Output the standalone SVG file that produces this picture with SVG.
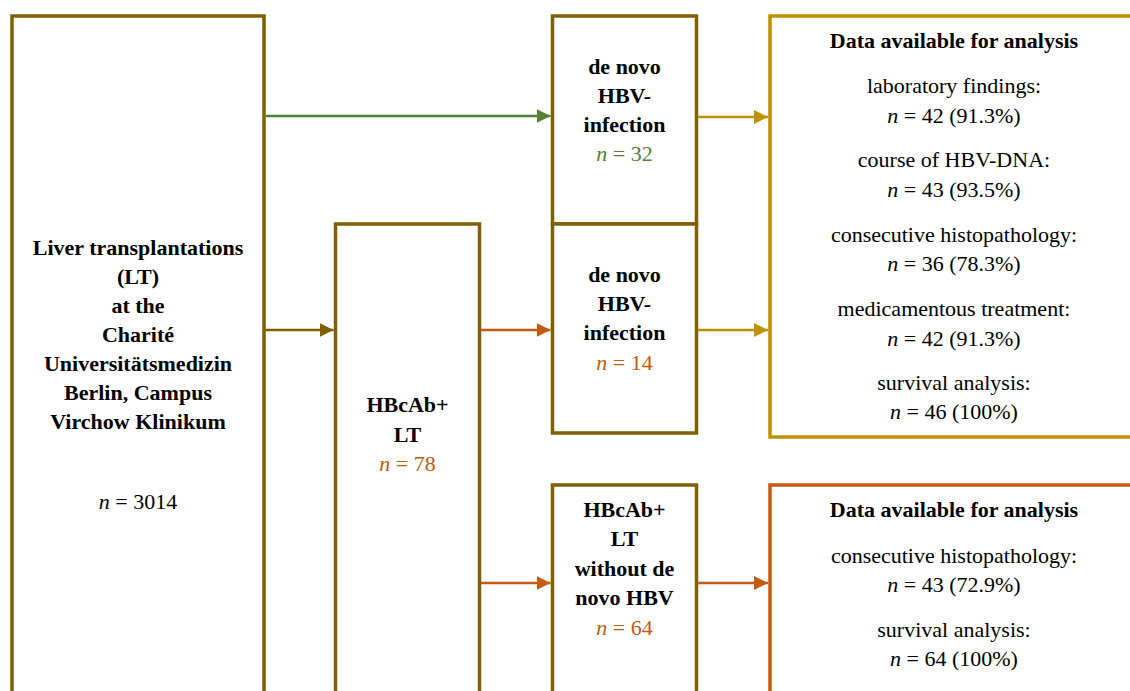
<svg xmlns="http://www.w3.org/2000/svg" width="1130" height="691" viewBox="0 0 1130 691">
<defs>
<style>
.box{fill:#ffffff;stroke:#7F6000;stroke-width:3.5}
.gold{fill:#ffffff;stroke:#BF9000;stroke-width:3.5}
.org{fill:#ffffff;stroke:#C55A11;stroke-width:3.5}
text{font-family:"Liberation Serif","Times New Roman",serif;font-size:22px;text-anchor:middle;fill:#000000}
.b{font-weight:bold}
.i{font-style:italic}
.gr{fill:#538135}
.or{fill:#C55A11}
.c{fill:none;stroke-width:2.5}
</style>
<marker id="mBrown" markerUnits="userSpaceOnUse" markerWidth="15" markerHeight="15" refX="14" refY="7" orient="auto"><path d="M0,0 L14,7 L0,14 z" fill="#7F6000"/></marker>
<marker id="mGreen" markerUnits="userSpaceOnUse" markerWidth="15" markerHeight="15" refX="14" refY="7" orient="auto"><path d="M0,0 L14,7 L0,14 z" fill="#538135"/></marker>
<marker id="mOrange" markerUnits="userSpaceOnUse" markerWidth="15" markerHeight="15" refX="14" refY="7" orient="auto"><path d="M0,0 L14,7 L0,14 z" fill="#C55A11"/></marker>
<marker id="mGold" markerUnits="userSpaceOnUse" markerWidth="15" markerHeight="15" refX="14" refY="7" orient="auto"><path d="M0,0 L14,7 L0,14 z" fill="#BF9000"/></marker>
</defs>
<rect width="1130" height="691" fill="#ffffff"/>

<g id="node-lt">
<rect class="box" x="12" y="16" width="252" height="700"/>
<text class="b" x="138" y="254.5">Liver transplantations</text>
<text class="b" x="138" y="283.5">(LT)</text>
<text class="b" x="138" y="312.5">at the</text>
<text class="b" x="138" y="341.5">Charité</text>
<text class="b" x="138" y="370.5">Universitätsmedizin</text>
<text class="b" x="138" y="399.5">Berlin, Campus</text>
<text class="b" x="138" y="428.5">Virchow Klinikum</text>
<text x="138" y="509"><tspan class="i">n</tspan> = 3014</text>
</g>

<g id="node-hbcab">
<rect class="box" x="335.5" y="224" width="144" height="500"/>
<text class="b" x="407.5" y="412">HBcAb+</text>
<text class="b" x="407.5" y="441.5">LT</text>
<text class="or" x="407.5" y="471"><tspan class="i">n</tspan> = 78</text>
</g>

<g id="node-denovo32">
<rect class="box" x="552.5" y="16" width="144" height="208"/>
<text class="b" x="624.5" y="74">de novo</text>
<text class="b" x="624.5" y="103">HBV-</text>
<text class="b" x="624.5" y="132">infection</text>
<text class="gr" x="624.5" y="161"><tspan class="i">n</tspan> = 32</text>
</g>

<g id="node-denovo14">
<rect class="box" x="552.5" y="224" width="144" height="209"/>
<text class="b" x="624.5" y="282">de novo</text>
<text class="b" x="624.5" y="311">HBV-</text>
<text class="b" x="624.5" y="340">infection</text>
<text class="or" x="624.5" y="369.5"><tspan class="i">n</tspan> = 14</text>
</g>

<g id="node-without">
<rect class="box" x="552.5" y="485" width="144" height="300"/>
<text class="b" x="624.5" y="516.5">HBcAb+</text>
<text class="b" x="624.5" y="546">LT</text>
<text class="b" x="624.5" y="575.5">without de</text>
<text class="b" x="624.5" y="605">novo HBV</text>
<text class="or" x="624.5" y="635"><tspan class="i">n</tspan> = 64</text>
</g>

<g id="node-data1">
<rect class="gold" x="770" y="16" width="400" height="421"/>
<text class="b" x="954" y="48">Data available for analysis</text>
<text x="954" y="93">laboratory findings:</text>
<text x="954" y="122.5"><tspan class="i">n</tspan> = 42 (91.3%)</text>
<text x="954" y="167">course of HBV-DNA:</text>
<text x="954" y="196.5"><tspan class="i">n</tspan> = 43 (93.5%)</text>
<text x="954" y="241.5">consecutive histopathology:</text>
<text x="954" y="271"><tspan class="i">n</tspan> = 36 (78.3%)</text>
<text x="954" y="316">medicamentous treatment:</text>
<text x="954" y="345.5"><tspan class="i">n</tspan> = 42 (91.3%)</text>
<text x="954" y="390">survival analysis:</text>
<text x="954" y="419"><tspan class="i">n</tspan> = 46 (100%)</text>
</g>

<g id="node-data2">
<rect class="org" x="770" y="485" width="400" height="300"/>
<text class="b" x="954" y="516.5">Data available for analysis</text>
<text x="954" y="562.5">consecutive histopathology:</text>
<text x="954" y="592"><tspan class="i">n</tspan> = 43 (72.9%)</text>
<text x="954" y="636.5">survival analysis:</text>
<text x="954" y="666"><tspan class="i">n</tspan> = 64 (100%)</text>
</g>

<g id="connectors">
<line class="c" x1="265.5" y1="116" x2="550.5" y2="116" stroke="#538135" marker-end="url(#mGreen)"/>
<line class="c" x1="265.5" y1="330" x2="333.5" y2="330" stroke="#7F6000" marker-end="url(#mBrown)"/>
<line class="c" x1="481" y1="330" x2="550.5" y2="330" stroke="#C55A11" marker-end="url(#mOrange)"/>
<line class="c" x1="481" y1="583" x2="550.5" y2="583" stroke="#C55A11" marker-end="url(#mOrange)"/>
<line class="c" x1="698" y1="117" x2="768" y2="117" stroke="#BF9000" marker-end="url(#mGold)"/>
<line class="c" x1="698" y1="330" x2="768" y2="330" stroke="#BF9000" marker-end="url(#mGold)"/>
<line class="c" x1="698" y1="583" x2="768" y2="583" stroke="#C55A11" marker-end="url(#mOrange)"/>
</g>
</svg>
